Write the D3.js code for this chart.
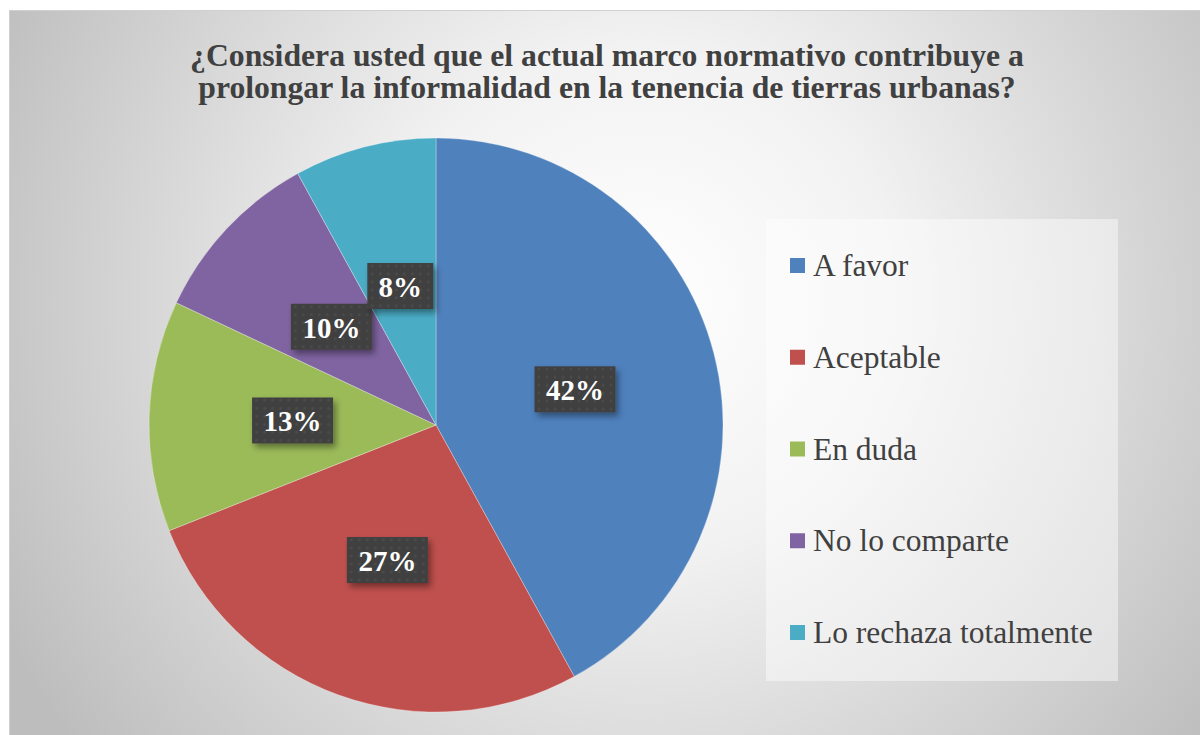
<!DOCTYPE html>
<html>
<head>
<meta charset="utf-8">
<script src="https://cdn.jsdelivr.net/npm/d3@7"></script>
<style>
  body { margin: 0; background: #fff; }
  svg { display: block; }
  svg text { font-family: "Liberation Serif", "Times New Roman", serif; }
</style>
</head>
<body>
<div id="chart-area"></div>
<script>
const categories = ["A favor", "Aceptable", "En duda", "No lo comparte", "Lo rechaza totalmente"]
const values = [42, 27, 13, 10, 8]
const colors = ["#4f81bd", "#c0504d", "#9bbb59", "#8064a2", "#4bacc6"]
const titleLines = [
    "¿Considera usted que el actual marco normativo contribuye a",
    "prolongar la informalidad en la tenencia de tierras urbanas?"
]

const WIDTH = 1200
const HEIGHT = 735
const CX = 436, CY = 425, R = 287

const svg = d3.select("#chart-area")
    .append("svg")
    .attr("width", WIDTH)
    .attr("height", HEIGHT)

const defs = svg.append("defs")
const grad = defs.append("radialGradient")
    .attr("id", "bg")
    .attr("gradientUnits", "userSpaceOnUse")
    .attr("cx", 640).attr("cy", 300).attr("r", 720)
grad.append("stop").attr("offset", "0%").attr("stop-color", "#ffffff")
grad.append("stop").attr("offset", "35%").attr("stop-color", "#f2f2f2")
grad.append("stop").attr("offset", "100%").attr("stop-color", "#bdbdbd")

const shadow = defs.append("filter").attr("id", "shadow")
    .attr("x", "-20%").attr("y", "-20%").attr("width", "150%").attr("height", "160%")
shadow.append("feDropShadow")
    .attr("dx", 3).attr("dy", 4).attr("stdDeviation", 3)
    .attr("flood-color", "#000").attr("flood-opacity", 0.4)

// faint dotted texture of the label boxes
const pat = defs.append("pattern").attr("id", "dots")
    .attr("patternUnits", "userSpaceOnUse")
    .attr("width", 8).attr("height", 8)
pat.append("rect").attr("width", 8).attr("height", 8).attr("fill", "#404040")
pat.append("circle").attr("cx", 4).attr("cy", 4).attr("r", 1.4).attr("fill", "#4c4c4c")

// chart area
svg.append("rect")
    .attr("x", 9.5).attr("y", 10.5)
    .attr("width", WIDTH - 9).attr("height", HEIGHT - 10)
    .attr("fill", "url(#bg)")
    .attr("stroke", "#d0d0d0")

// title
const title = svg.append("text")
    .attr("text-anchor", "middle")
    .attr("font-weight", "bold")
    .attr("font-size", 32)
    .attr("fill", "#404040")
title.selectAll("tspan").data(titleLines).enter()
    .append("tspan")
    .attr("x", 607)
    .attr("y", (d, i) => 66 + i * 32)
    .text(d => d)

// fit first line to the width seen in the picture (834px)
const firstLen = title.select("tspan").node().getComputedTextLength()
if (firstLen > 0) title.attr("font-size", 32 * 834 / firstLen)

// pie
const pie = d3.pie().sort(null).value(d => d)
const arc = d3.arc().innerRadius(0).outerRadius(R)
const arcs = pie(values)

const g = svg.append("g").attr("transform", `translate(${CX}, ${CY})`)

g.selectAll("path").data(arcs).enter()
    .append("path")
    .attr("d", arc)
    .attr("fill", (d, i) => colors[i])
    .attr("stroke", "#ffffff")
    .attr("stroke-width", 0.5)
    .attr("stroke-opacity", 0.6)

// data labels
const labels = g.selectAll(".lbl").data(arcs).enter()
    .append("g")
    .attr("class", "lbl")
    .attr("transform", d => `translate(${arc.centroid(d)})`)

labels.append("rect")
    .attr("x", d => d.data >= 10 ? -40.5 : -33)
    .attr("y", -23)
    .attr("width", d => d.data >= 10 ? 81 : 66)
    .attr("height", 46)
    .attr("fill", "url(#dots)")
    .attr("filter", "url(#shadow)")

labels.append("text")
    .attr("text-anchor", "middle")
    .attr("y", 11)
    .attr("font-weight", "bold")
    .attr("font-size", 29)
    .attr("fill", "#ffffff")
    .text(d => d.data + "%")

// legend
svg.append("rect")
    .attr("x", 766).attr("y", 219)
    .attr("width", 352).attr("height", 462)
    .attr("fill", "#ffffff")
    .attr("fill-opacity", 0.45)

const y = d3.scalePoint().domain(categories).range([276, 643])

const items = svg.selectAll(".leg").data(categories).enter()
    .append("g")
    .attr("class", "leg")
    .attr("transform", d => `translate(790, ${y(d)})`)

items.append("rect")
    .attr("x", 0).attr("y", -18)
    .attr("width", 15).attr("height", 15)
    .attr("fill", (d, i) => colors[i])

items.append("text")
    .attr("x", 23)
    .attr("y", 0)
    .attr("font-size", 31.5)
    .attr("fill", "#404040")
    .text(d => d)
</script>
</body>
</html>
